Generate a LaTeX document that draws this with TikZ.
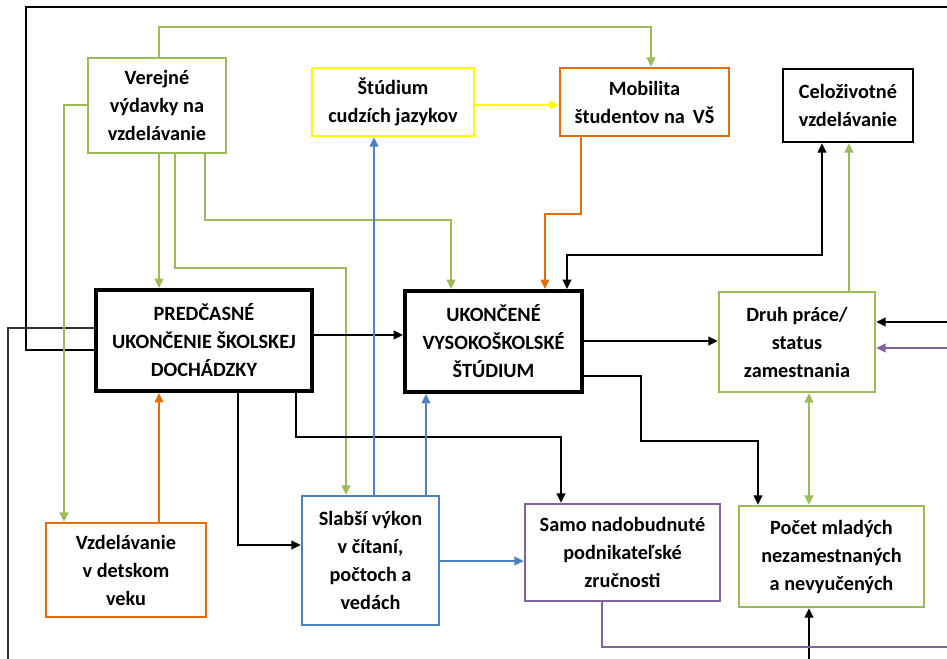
\documentclass[tikz,border=0pt]{standalone}
\usepackage{fontspec}
\setmainfont{Carlito}
\usetikzlibrary{arrows.meta}
\definecolor{olgreen}{RGB}{155,187,89}
\definecolor{offorange}{RGB}{228,108,10}
\definecolor{offblue}{RGB}{79,129,189}
\definecolor{offpurple}{RGB}{128,100,162}
\definecolor{offyellow}{RGB}{255,255,0}
\tikzset{
	box/.style={draw, rectangle, align=center, inner sep=0pt, line width=1.8pt,
		font=\bfseries\fontsize{15.2}{21}\selectfont},
	mainbox/.style={box, line width=3pt},
	link/.style={line width=1.3pt, -{Triangle[length=7pt,width=6.5pt]}},
	plain/.style={line width=1.3pt},
}

\begin{document}
\begin{tikzpicture}[x=0.75pt, y=-0.75pt]
			%%%%% START %%%%%
			
			\useasboundingbox (0,0) rectangle (947,659);
			
			\node[box, draw=olgreen, minimum width=103.5pt, minimum height=71.25pt] (pub) at (157,105.5) {Verejné\\výdavky na\\vzdelávanie};
			\node[box, draw=offyellow, minimum width=121.5pt, minimum height=51pt] (lang) at (393,102) {Štúdium\\cudzích jazykov};
			\node[box, draw=offorange, minimum width=126.75pt, minimum height=51pt] (mob) at (644.5,102) {Mobilita\\študentov na \,VŠ};
			\node[box, draw=black, minimum width=97.5pt, minimum height=54.75pt] (life) at (848,105.5) {Celoživotné\\vzdelávanie};
			
			\node[mainbox, minimum width=162pt, minimum height=75.75pt] (early) at (204,340.5) {PREDČASNÉ\\UKONČENIE ŠKOLSKEJ\\DOCHÁDZKY};
			\node[mainbox, minimum width=132.75pt, minimum height=75.75pt] (uni) at (493.5,341.5) {UKONČENÉ\\VYSOKOŠKOLSKÉ\\ŠTÚDIUM};
			\node[box, draw=olgreen, minimum width=117pt, minimum height=75pt] (job) at (797,342) {Druh práce/\\status\\zamestnania};
			
			\node[box, draw=offorange, minimum width=120pt, minimum height=70.5pt] (child) at (126,570) {Vzdelávanie\\v detskom\\veku};
			\node[box, draw=offblue, minimum width=102.75pt, minimum height=96.75pt] (weak) at (370.5,560.5) {Slabší výkon\\v čítaní,\\počtoch a\\vedách};
			\node[box, draw=offpurple, minimum width=146.25pt, minimum height=72.75pt] (skill) at (622.5,552.5) {Samo nadobudnuté\\podnikateľské\\zručnosti};
			\node[box, draw=olgreen, minimum width=138.75pt, minimum height=75.75pt] (unemp) at (831.5,556.5) {Počet mladých\\nezamestnaných\\a nevyučených};
			
			% black frame lines leaving the picture
			\draw[plain] (early.west |- 0,350) -- (26,350) -- (26,7) -- (947,7);
			\draw[plain, black!80] (early.west |- 0,328) -- (8,328) -- (8,659);
			
			% public spending
			\draw[link, olgreen] (pub.north -| 159,0) |- (651,27) -- (mob.north -| 651,0);
			\draw[link, olgreen] (pub.west |- 0,105) -| (child.north -| 64,0);
			\draw[link, olgreen] (pub.south -| 159,0) -- (early.north -| 159,0);
			\draw[link, olgreen] (pub.south -| 175,0) |- (346,268) -- (weak.north -| 346,0);
			\draw[link, olgreen] (pub.south -| 205,0) |- (451,220) -- (uni.north -| 451,0);
			
			\draw[link, offyellow] (lang.east |- 0,105) -- (mob.west |- 0,105);
			\draw[link, offorange] (mob.south -| 581,0) |- (545,214) -- (uni.north -| 545,0);
			\draw[plain, {Triangle[length=7pt,width=6.5pt]}-{Triangle[length=7pt,width=6.5pt]}] (uni.north -| 567,0) |- (822,255) -- (life.south -| 822,0);
			\draw[link, olgreen] (job.north -| 849,0) -- (life.south -| 849,0);
			
			% from the right
			\draw[link] (947,322) -- (job.east |- 0,322);
			\draw[link, offpurple] (947,348) -- (job.east |- 0,348);
			
			\draw[link] (early.east |- 0,335) -- (uni.west |- 0,335);
			\draw[link] (uni.east |- 0,341) -- (job.west |- 0,341);
			\draw[link] (uni.east |- 0,376) -| (641,441) -| (unemp.north -| 758,0);
			\draw[link] (early.south -| 296,0) |- (561,437) -- (skill.north -| 561,0);
			\draw[link] (early.south -| 238,0) |- (weak.west |- 0,545);
			
			\draw[link, offorange] (child.north -| 159,0) -- (early.south -| 159,0);
			\draw[link, offblue] (weak.north -| 374,0) -- (lang.south -| 374,0);
			\draw[link, offblue] (weak.north -| 426,0) -- (uni.south -| 426,0);
			\draw[link, offblue] (weak.east |- 0,561) -- (skill.west |- 0,561);
			
			\draw[plain, olgreen, {Triangle[length=7pt,width=6.5pt]}-{Triangle[length=7pt,width=6.5pt]}] (job.south -| 809,0) -- (unemp.north -| 809,0);
			\draw[link] (809,659) -- (unemp.south -| 809,0);
			\draw[plain, offpurple] (skill.south -| 602,0) |- (947,647);
			
			%%%%% END %%%%%
		\end{tikzpicture}
\end{document}
